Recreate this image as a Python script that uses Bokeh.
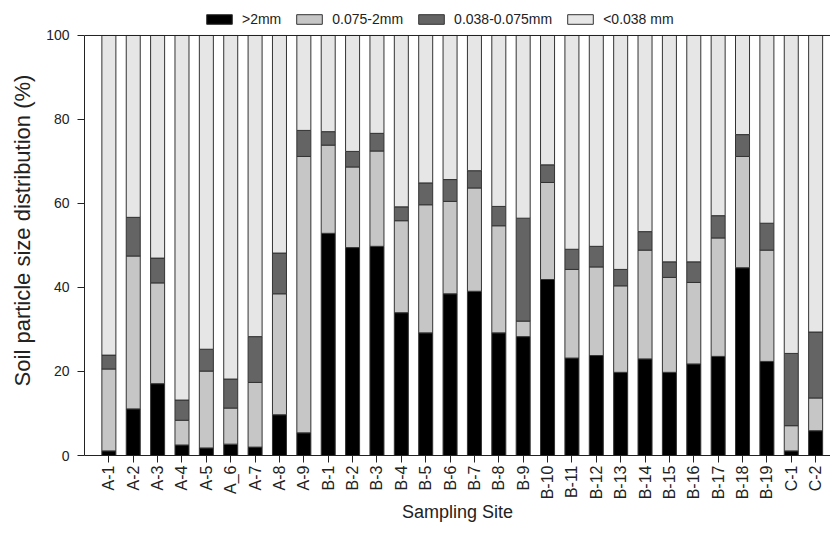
import math
from bokeh.plotting import figure
from bokeh.models import Range1d, Legend, LegendItem, FixedTicker, ColumnDataSource, Span
from bokeh.embed import file_html
from bokeh.resources import INLINE

sites = ["A-1", "A-2", "A-3", "A-4", "A-5", "A_6", "A-7", "A-8", "A-9",
         "B-1", "B-2", "B-3", "B-4", "B-5", "B-6", "B-7", "B-8", "B-9", "B-10",
         "B-11", "B-12", "B-13", "B-14", "B-15", "B-16", "B-17", "B-18", "B-19",
         "C-1", "C-2"]
gt2 = [1.1, 11.1, 17.1, 2.5, 1.8, 2.7, 2.0, 9.7, 5.4, 52.9, 49.5, 49.8, 34.0, 29.2, 38.5,
       39.1, 29.2, 28.3, 41.9, 23.2, 23.8, 19.8, 23.0, 19.8, 21.8, 23.6, 44.7, 22.4, 1.1, 5.9]
s075_2 = [19.5, 36.4, 24.0, 5.9, 18.3, 8.6, 15.4, 28.8, 65.8, 21.0, 19.2, 22.7, 21.9, 30.5, 22.0,
          24.6, 25.5, 3.7, 23.1, 21.1, 21.1, 20.6, 25.9, 22.6, 19.4, 28.2, 26.5, 26.5, 6.0, 7.8]
s038_075 = [3.3, 9.2, 5.9, 4.8, 5.2, 6.9, 10.9, 9.7, 6.2, 3.2, 3.7, 4.2, 3.3, 5.2, 5.2,
            4.1, 4.6, 24.5, 4.2, 4.8, 4.9, 3.9, 4.4, 3.7, 4.9, 5.3, 5.2, 6.4, 17.2, 15.7]
lt038 = [76.1, 43.3, 53.0, 86.8, 74.7, 81.8, 71.7, 51.8, 22.6, 22.9, 27.6, 23.3, 40.8, 35.1, 34.3,
         32.2, 40.7, 43.5, 30.8, 50.9, 50.2, 55.7, 46.7, 53.9, 53.9, 42.9, 23.6, 44.7, 75.7, 70.6]
series_names = [">2mm", "0.075-2mm", "0.038-0.075mm", "<0.038 mm"]
colors = ["#000000", "#c6c6c6", "#646464", "#e6e6e6"]
y_ticks = [0, 20, 40, 60, 80, 100]
y_max = 100

FONT = "Liberation Sans"
xpos = list(range(1, len(sites) + 1))
src = ColumnDataSource(dict(x=xpos, gt2=gt2, s075_2=s075_2, s038_075=s038_075, lt038=lt038))

# frame extends above 100 so the legend (drawn inside the frame) sits above the axes box
p = figure(width=830, height=534, x_range=Range1d(0, 30.61), y_range=Range1d(0, 107.14),
           output_backend="svg", toolbar_location=None,
           min_border_left=84, min_border_right=0, min_border_top=5, min_border_bottom=79)
p.grid.visible = False
p.outline_line_color = None
p.background_fill_color = "white"

rs = p.vbar_stack(["gt2", "s075_2", "s038_075", "lt038"], x="x", width=0.575, color=colors,
                  line_color="#333333", line_width=1, source=src)

# top border of the axes box
p.add_layout(Span(location=y_max, dimension="width", line_color="#222222", line_width=1))

xa = p.xaxis[0]
xa.ticker = FixedTicker(ticks=xpos)
xa.major_label_overrides = {x: s for x, s in zip(xpos, sites)}
xa.major_label_orientation = math.pi / 2
xa.axis_label = "Sampling Site"
xa.axis_label_standoff = 0
xa.major_label_standoff = 3

ya = p.yaxis[0]
ya.ticker = FixedTicker(ticks=y_ticks)
ya.bounds = (0, y_max)
ya.axis_label = "Soil particle size distribution (%)"
ya.axis_label_standoff = 8
ya.major_label_standoff = 8

for ax in (xa, ya):
    ax.axis_line_color = "#222222"
    ax.major_tick_line_color = "#222222"
    ax.major_tick_in = 0
    ax.major_tick_out = 7
    ax.minor_tick_line_color = None
    ax.major_label_text_font = FONT
    ax.major_label_text_color = "#222222"
    ax.axis_label_text_font = FONT
    ax.axis_label_text_font_style = "normal"
    ax.axis_label_text_color = "#222222"
xa.major_label_text_font_size = "16px"
ya.major_label_text_font_size = "14px"
xa.axis_label_text_font_size = "18px"
ya.axis_label_text_font_size = "22px"

legend = Legend(items=[LegendItem(label=n, renderers=[r]) for n, r in zip(series_names, rs)],
                orientation="horizontal", location=(119, 428), glyph_width=32, glyph_height=12,
                label_text_font=FONT, label_text_font_size="14px", label_text_color="#222222",
                spacing=12, label_standoff=7, padding=0, margin=0,
                border_line_color=None, background_fill_alpha=0)
p.add_layout(legend, "center")

open("out.html", "w").write(file_html(p, INLINE))
